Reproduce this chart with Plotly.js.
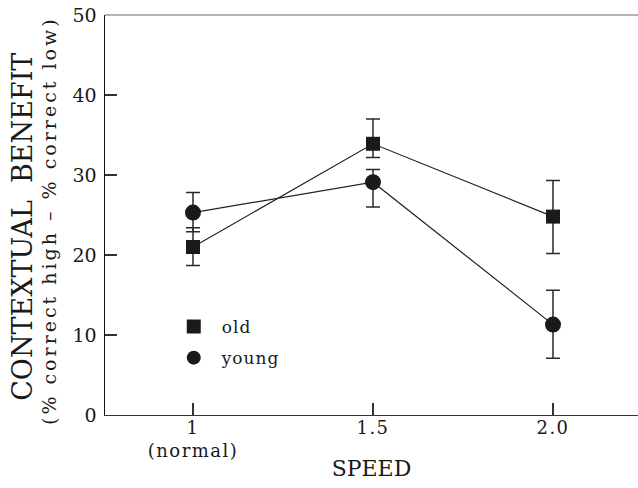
<!DOCTYPE html>
<html>
<head>
<meta charset="utf-8">
<script src="https://cdn.plot.ly/plotly-3.0.1.min.js"></script>
<style>
  html, body { margin: 0; padding: 0; background: #fff; }
  #chart { width: 638px; height: 488px; }
  g.annotation[data-index="1"] text { letter-spacing: 3px; }
  g.legend text { letter-spacing: 1px; }
  g.xtick text { letter-spacing: 1.5px; }
</style>
</head>
<body>
<div id="chart"></div>
<script>
// Data
const speeds = [1, 1.5, 2.0];
const speedLabels = ["1<br>(normal)", "1.5", "2.0"];

const oldVals = [21.0, 33.9, 24.8];
const oldPlus = [2.4, 3.1, 4.5];
const oldMinus = [2.3, 1.7, 4.6];

const youngVals = [25.3, 29.1, 11.3];
const youngPlus = [2.5, 1.6, 4.3];
const youngMinus = [2.4, 3.1, 4.2];

const seriesNames = ["old", "young"];
const yTicks = [0, 10, 20, 30, 40, 50];

const FONT = "DejaVu Serif, Liberation Serif, serif";
const INK = "#1a1a1a";

function errStyle(plus, minus) {
  return {type: "data", symmetric: false, array: plus, arrayminus: minus,
          color: "#2a2a2a", thickness: 1.5, width: 7};
}

const traces = [
  {x: speeds, y: oldVals, mode: "lines+markers", showlegend: false,
   line: {color: "#222", width: 1.2},
   marker: {symbol: "square", size: 14, color: INK},
   error_y: errStyle(oldPlus, oldMinus)},
  {x: speeds, y: youngVals, mode: "lines+markers", showlegend: false,
   line: {color: "#222", width: 1.2},
   marker: {symbol: "circle", size: 16, color: INK},
   error_y: errStyle(youngPlus, youngMinus)},
  // legend entries (markers only, as in the reference key)
  {x: [null], y: [null], mode: "markers", name: seriesNames[0], legendgroup: "a",
   marker: {symbol: "square", size: 14, color: INK}},
  {x: [null], y: [null], mode: "markers", name: seriesNames[1], legendgroup: "b",
   marker: {symbol: "circle", size: 14, color: INK}}
];

const layout = {
  width: 638, height: 488,
  margin: {l: 105, r: 0, t: 15, b: 73},
  paper_bgcolor: "#fff", plot_bgcolor: "#fff",
  font: {family: FONT, color: INK, size: 17},
  showlegend: true,
  legend: {x: 0.114, y: 0.265, xanchor: "left", yanchor: "top",
           bgcolor: "rgba(0,0,0,0)", font: {family: FONT, size: 17, color: INK},
           traceorder: "grouped", tracegroupgap: 6, itemwidth: 46},
  xaxis: {
    range: [0.7556, 2.2361], tickvals: speeds, ticktext: speedLabels,
    showgrid: false, zeroline: false,
    showline: true, linecolor: "#333", linewidth: 1.2,
    ticks: "inside", ticklen: 12, tickcolor: "#333", tickwidth: 1.2,
    ticklabelstandoff: -4,
    tickfont: {family: FONT, size: 18, color: INK},
    title: {text: "SPEED", font: {family: FONT, size: 22, color: INK}, standoff: 0}
  },
  yaxis: {
    range: [0, 50], tickvals: yTicks, ticktext: yTicks.map(String),
    showgrid: false, zeroline: false,
    showline: true, linecolor: "#111", linewidth: 1.5,
    ticks: "inside", ticklen: 12, tickcolor: "#333", tickwidth: 1.2,
    ticklabelstandoff: 3,
    tickfont: {family: FONT, size: 19, color: INK}
  },
  shapes: [
    {type: "line", xref: "paper", yref: "paper", x0: 0, x1: 1, y0: 1, y1: 1,
     line: {color: "#9a9a9a", width: 1.5}}
  ],
  annotations: [
    {text: "CONTEXTUAL  BENEFIT", textangle: -90, xref: "paper", yref: "paper",
     x: -0.156, y: 0.47, xanchor: "center", yanchor: "middle", showarrow: false,
     font: {family: FONT, size: 27, color: INK}},
    {text: "(% correct high – % correct low)", textangle: -90, xref: "paper", yref: "paper",
     x: -0.105, y: 0.485, xanchor: "center", yanchor: "middle", showarrow: false,
     font: {family: FONT, size: 19, color: INK}}
  ]
};

Plotly.newPlot("chart", traces, layout, {displayModeBar: false, staticPlot: true});
</script>
</body>
</html>
